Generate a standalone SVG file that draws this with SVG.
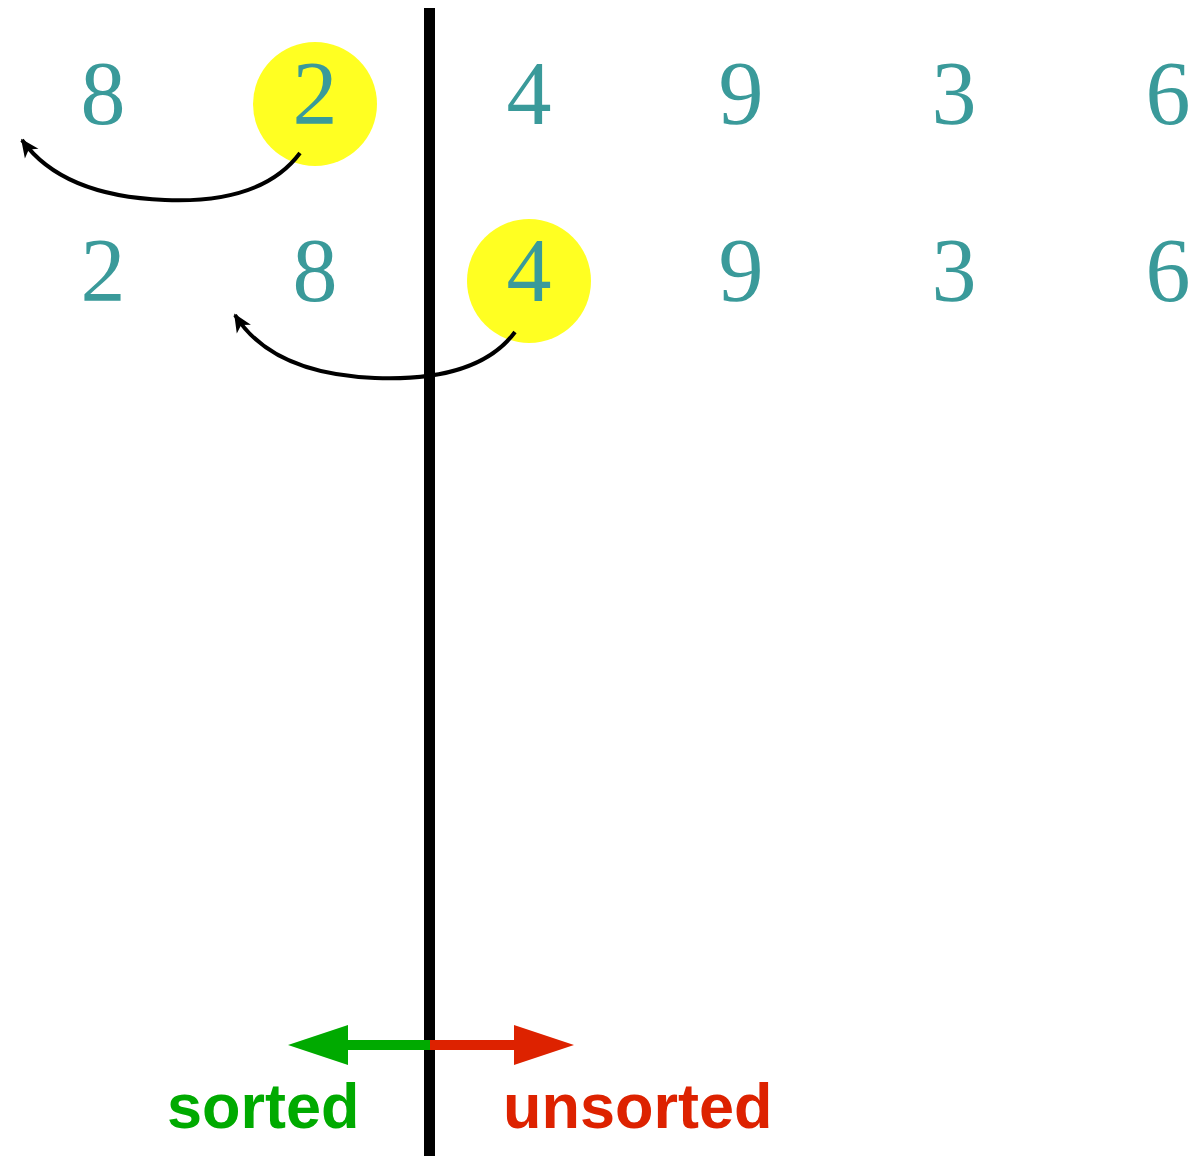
<svg xmlns="http://www.w3.org/2000/svg" width="1194" height="1156" viewBox="0 0 1194 1156">
<style>
.d{font-family:"Liberation Serif",serif;font-size:90px;fill:#3a9a9a;text-anchor:middle}
.hl{fill:#ffff22}
.cv{fill:none;stroke:#000;stroke-width:4}
.lbl{font-family:"Liberation Sans",Arial,sans-serif;font-weight:bold;font-size:63px}
</style>
<defs>
<marker id="ah" viewBox="0 0 12 12" refX="10" refY="6" markerWidth="5" markerHeight="5" orient="auto" markerUnits="strokeWidth">
<path d="M0,1 L11,6 L0,11 L3,6 Z" fill="#000"/>
</marker>
</defs>
<rect width="1194" height="1156" fill="#fff"/>
<g id="highlights">
<circle class="hl" cx="315" cy="104" r="62"/>
<circle class="hl" cx="529" cy="281" r="62"/>
</g>
<g id="row1">
<text class="d" x="103" y="124">8</text>
<text class="d" x="315" y="124">2</text>
<text class="d" x="529" y="124">4</text>
<text class="d" x="741" y="124">9</text>
<text class="d" x="954" y="124">3</text>
<text class="d" x="1168" y="124">6</text>
</g>
<g id="row2">
<text class="d" x="103" y="301">2</text>
<text class="d" x="315" y="301">8</text>
<text class="d" x="529" y="301">4</text>
<text class="d" x="741" y="301">9</text>
<text class="d" x="954" y="301">3</text>
<text class="d" x="1168" y="301">6</text>
</g>
<g id="connectors">
<path class="cv" d="M300,153 Q262,204 165,200 Q62,196 22,140" marker-end="url(#ah)"/>
<path class="cv" d="M515,332 Q478,382 375,378 Q272,374 235,315" marker-end="url(#ah)"/>
</g>
<g id="divider">
<rect x="424" y="8" width="11" height="1148" fill="#000"/>
</g>
<g id="direction">
<rect x="340" y="1040" width="90" height="10" fill="#00aa00"/>
<polygon points="288,1045 348,1025 348,1065" fill="#00aa00"/>
<rect x="430" y="1040" width="90" height="10" fill="#dd2200"/>
<polygon points="574,1045 514,1025 514,1065" fill="#dd2200"/>
<text class="lbl" x="167" y="1128" fill="#00aa00">sorted</text>
<text class="lbl" x="503" y="1128" fill="#dd2200">unsorted</text>
</g>
</svg>
